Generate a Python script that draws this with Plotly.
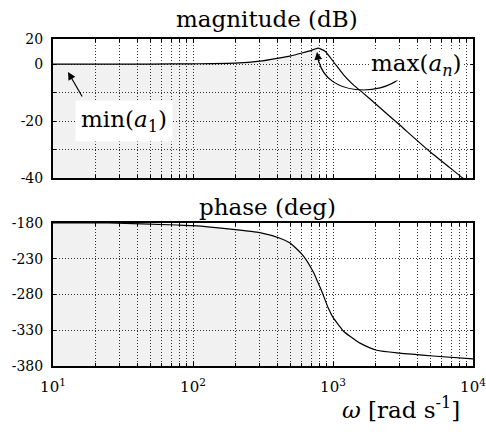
import plotly.graph_objects as go
from plotly.subplots import make_subplots

# ---- data ----
mag_omega = [10, 50, 100, 200, 300, 400, 500, 600, 700, 780, 877, 1005, 1186,
             1397, 1644, 2049, 3012, 4932, 8440, 10000]
mag_db = [0, 0, 0.1, 0.3, 1.0, 2.0, 2.9, 3.9, 4.8, 5.6, 4.5, 0.9, -3.7,
          -7.3, -10.2, -14.3, -21.5, -30.8, -40, -43]

ph_omega = [10, 25, 77, 100, 193, 300, 418, 493, 535, 614, 725, 780, 830, 925,
            1000, 1091, 1186, 1322, 1476, 1560, 2051, 3000, 3963, 5176, 10000]
ph_deg = [-180, -180, -182.8, -183.7, -188.9, -193.5, -201.4, -208, -214, -226,
          -249, -263, -275, -299, -312, -322, -331, -338.5, -345, -348, -358,
          -362, -364, -366, -370]

shade_end = 780  # shaded region ends at the resonance peak

x_major = [10, 100, 1000, 10000]
x_major_text = ['10<sup>1</sup>', '10<sup>2</sup>', '10<sup>3</sup>', '10<sup>4</sup>']
x_minor = [m * d for d in [10, 100, 1000] for m in range(2, 10)]

mag_major = [-40, -20, 0, 8.8]
mag_major_text = ['-40', '-20', '0', '20']
mag_minor = [-30, -10]
ph_ticks = [-380, -330, -280, -230, -180]
ph_ticktext = ['-380', '-330', '-280', '-230', '-180']

FONT = 'DejaVu Serif'
W, H = 486, 435
ML, MR, MT, MB = 53, 13, 39, 69
PW, PH = W - ML - MR, H - MT - MB


def px(x):
    return (x - ML) / PW


def py(y):
    return (H - MB - y) / PH


fig = make_subplots(rows=2, cols=1)

m_sx = [w for w in mag_omega if w <= shade_end]
m_sy = mag_db[:len(m_sx)]
fig.add_trace(go.Scatter(x=m_sx, y=[-40] * len(m_sx), mode='lines',
                         line=dict(width=0), hoverinfo='skip', showlegend=False), 1, 1)
fig.add_trace(go.Scatter(x=m_sx, y=m_sy, mode='lines', line=dict(width=0),
                         fill='tonexty', fillcolor='rgba(0,0,0,0.055)',
                         hoverinfo='skip', showlegend=False), 1, 1)
p_sx = [w for w in ph_omega if w <= shade_end]
p_sy = ph_deg[:len(p_sx)]
fig.add_trace(go.Scatter(x=p_sx, y=[-380] * len(p_sx), mode='lines',
                         line=dict(width=0), hoverinfo='skip', showlegend=False), 2, 1)
fig.add_trace(go.Scatter(x=p_sx, y=p_sy, mode='lines', line=dict(width=0),
                         fill='tonexty', fillcolor='rgba(0,0,0,0.055)',
                         hoverinfo='skip', showlegend=False), 2, 1)

fig.add_trace(go.Scatter(x=mag_omega, y=mag_db, mode='lines',
                         line=dict(color='black', width=1.2, shape='spline', smoothing=0.5),
                         showlegend=False), 1, 1)
fig.add_trace(go.Scatter(x=ph_omega, y=ph_deg, mode='lines',
                         line=dict(color='black', width=1.2, shape='spline', smoothing=0.6),
                         showlegend=False), 2, 1)

GRID = dict(gridcolor='#333', griddash='1px,2px', gridwidth=1)
common_x = dict(type='log', range=[0.99999, 4.00001], tickmode='array',
                tickvals=x_major, ticktext=x_major_text,
                showgrid=True, **GRID,
                minor=dict(tickmode='array', tickvals=x_minor, showgrid=True, ticks='inside',
                           ticklen=3, tickcolor='black', **GRID),
                showline=True, linecolor='black', linewidth=2, mirror='ticks',
                ticks='inside', ticklen=4, tickcolor='black', zeroline=False,
                automargin=False, tickangle=0, ticklabeloverflow='allow')
fig.update_xaxes(**common_x)
fig.update_xaxes(showticklabels=False, row=1, col=1)
fig.update_xaxes(tickfont=dict(family=FONT, size=15, color='black'), ticklabelstandoff=6, row=2, col=1)

common_y = dict(showgrid=True, **GRID,
                showline=True, linecolor='black', linewidth=2, mirror='ticks',
                ticks='inside', ticklen=3, tickcolor='black', zeroline=False,
                tickfont=dict(family=FONT, size=14, color='black'), ticklabelstandoff=5,
                automargin=False)
fig.update_yaxes(**common_y)
fig.update_yaxes(range=[-40, 8.8], tickmode='array', tickvals=mag_major, ticktext=mag_major_text,
                 minor=dict(tickmode='array', tickvals=mag_minor, showgrid=True, ticks='inside',
                            ticklen=3, tickcolor='black', **GRID),
                 row=1, col=1)
fig.update_yaxes(range=[-380, -180], tickmode='array', tickvals=ph_ticks, ticktext=ph_ticktext,
                 row=2, col=1)

fig.update_layout(
    width=W, height=H, autosize=False,
    margin=dict(l=ML, r=MR, t=MT, b=MB),
    paper_bgcolor='white', plot_bgcolor='white',
    xaxis=dict(domain=[0, 1]), xaxis2=dict(domain=[0, 1]),
    yaxis=dict(domain=[py(178), 1]), yaxis2=dict(domain=[0, py(223)]),
    font=dict(family=FONT, color='black'),
)

ann = []
ann.append(dict(text='magnitude (dB)', x=px(267), y=py(19), xref='paper', yref='paper',
                showarrow=False, font=dict(family=FONT, size=23), xanchor='center', yanchor='middle'))
ann.append(dict(text='phase (deg)', x=px(267), y=py(207), xref='paper', yref='paper',
                showarrow=False, font=dict(family=FONT, size=23), xanchor='center', yanchor='middle'))
ann.append(dict(text='<i>ω</i> [rad s<sup>-1</sup>]', x=px(462), y=py(408), xref='paper', yref='paper',
                showarrow=False, font=dict(family=FONT, size=23), xanchor='right', yanchor='middle'))
ann.append(dict(text='max(<i>a</i><sub><i>n</i></sub>)', x=px(416), y=py(65), xref='paper', yref='paper',
                showarrow=False, font=dict(family=FONT, size=23), xanchor='center', yanchor='middle',
                bgcolor='white', borderpad=0))
ann.append(dict(text='min(<i>a</i><sub>1</sub>)', x=px(124), y=py(121), xref='paper', yref='paper',
                showarrow=False, font=dict(family=FONT, size=23), xanchor='center', yanchor='middle',
                bgcolor='white', borderpad=5))
ann.append(dict(text='', x=px(68), y=py(72), xref='paper', yref='paper', showarrow=True,
                ax=15, ay=26, arrowhead=2, arrowsize=1.3, arrowwidth=1.2, arrowcolor='black'))
ann.append(dict(text='', x=px(317), y=py(52), xref='paper', yref='paper', showarrow=True,
                ax=2, ay=12, arrowhead=2, arrowsize=1.3, arrowwidth=1.2, arrowcolor='black'))
fig.update_layout(annotations=ann)

path = 'M %f,%f C %f,%f %f,%f %f,%f' % (px(400), py(78), px(380), py(96), px(328), py(96),
                                          px(319), py(62))
fig.add_shape(type='path', path=path, xref='paper', yref='paper',
              line=dict(color='black', width=1.2))

fig.write_html('out.html', config={'displayModeBar': False},
               post_script="document.body.style.margin='0px';")
